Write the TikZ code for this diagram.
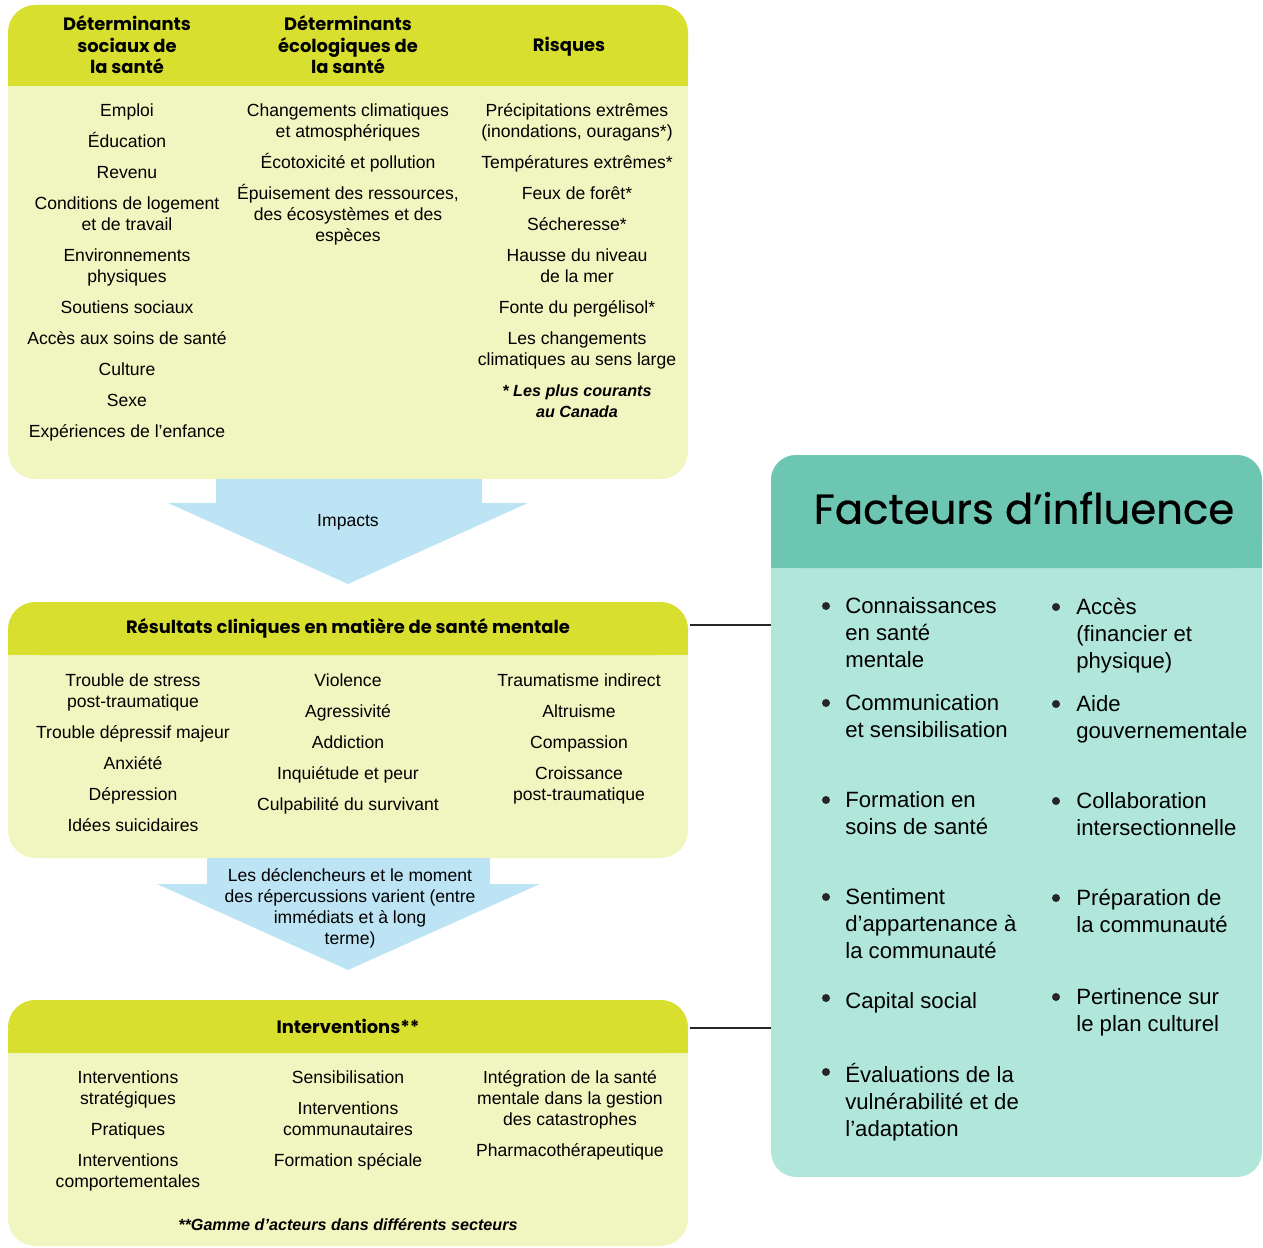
\documentclass[tikz,border=0pt]{standalone}
\usepackage{fontspec}
\setmainfont{Liberation Sans}
\newfontfamily\headfont{Poppins}
\newfontfamily\titlefont[FakeBold=0.6]{Poppins}
\usepackage{xcolor}
\usetikzlibrary{positioning}

\definecolor{headgreen}{HTML}{D8DF2E}
\definecolor{bodygreen}{HTML}{F1F5C0}
\definecolor{arrowblue}{HTML}{BDE4F4}
\definecolor{tealhead}{HTML}{6DC6B1}
\definecolor{tealbody}{HTML}{B1E7DA}

\begin{document}
\begin{tikzpicture}[x=0.02cm, y=-0.02cm,
  boxhead/.style={font=\headfont\bfseries\fontsize{10.2}{12.2}\selectfont, align=center, inner sep=0pt},
  items/.style={font=\fontsize{10}{11.95}\selectfont, align=center, inner sep=0pt, anchor=north, execute at begin node=\strut},
  factitem/.style={font=\fontsize{12.6}{15.3}\selectfont, align=left, inner sep=0pt, anchor=north west, execute at begin node=\strut},
  dot/.style={circle, fill=black!85, inner sep=0pt, minimum size=0.16cm},
  link/.style={line width=0.9pt, black!85}]
  \useasboundingbox (0,0) rectangle (1263,1247);

  % Box 1: determinants and risks
  \fill[bodygreen, rounded corners=0.55cm] (8,5) rectangle (688,479);
  \fill[headgreen, rounded corners=0.55cm] (8,5) rectangle (688,86);
  \fill[headgreen] (8,50) rectangle (688,86);
  \node[boxhead] (hsoc) at (127,45) {Déterminants\\sociaux de\\la santé};
  \node[boxhead] (heco) at (348,45) {Déterminants\\écologiques de\\la santé};
  \node[boxhead] (hrisk) at (569,47) {Risques};

  \node[items] (soc) at (127,103) {Emploi\\[2mm]Éducation\\[2mm]Revenu\\[2mm]Conditions de logement\\et de travail\\[2mm]Environnements\\physiques\\[2mm]Soutiens sociaux\\[2mm]Accès aux soins de santé\\[2mm]Culture\\[2mm]Sexe\\[2mm]Expériences de l’enfance};
  \node[items] (eco) at (348,103) {Changements climatiques\\et atmosphériques\\[2mm]Écotoxicité et pollution\\[2mm]Épuisement des ressources,\\des écosystèmes et des\\espèces};
  \node[items] (risk) at (577,103) {Précipitations extrêmes\\(inondations, ouragans*)\\[2mm]Températures extrêmes*\\[2mm]Feux de forêt*\\[2mm]Sécheresse*\\[2mm]Hausse du niveau\\de la mer\\[2mm]Fonte du pergélisol*\\[2mm]Les changements\\climatiques au sens large\\[2mm]{\fontsize{9.2}{11.95}\selectfont\bfseries\itshape * Les plus courants}\\{\fontsize{9.2}{11.95}\selectfont\bfseries\itshape au Canada}};

  % Arrow 1
  \fill[arrowblue] (216,479) -- (482,479) -- (482,503) -- (528,503) -- (348,584) -- (168,503) -- (216,503) -- cycle;
  \node[font=\fontsize{10}{11.95}\selectfont] (impacts) at (348,522) {Impacts};

  % Box 2: clinical outcomes
  \fill[bodygreen, rounded corners=0.55cm] (8,602) rectangle (688,858);
  \fill[headgreen, rounded corners=0.55cm] (8,602) rectangle (688,655);
  \fill[headgreen] (8,630) rectangle (688,655);
  \node[boxhead] (hres) at (348,628) {Résultats cliniques en matière de santé mentale};
  \coordinate (resout) at (690,625);

  \node[items] (res1) at (133,673) {Trouble de stress\\post-traumatique\\[2mm]Trouble dépressif majeur\\[2mm]Anxiété\\[2mm]Dépression\\[2mm]Idées suicidaires};
  \node[items] (res2) at (348,673) {Violence\\[2mm]Agressivité\\[2mm]Addiction\\[2mm]Inquiétude et peur\\[2mm]Culpabilité du survivant};
  \node[items] (res3) at (579,673) {Traumatisme indirect\\[2mm]Altruisme\\[2mm]Compassion\\[2mm]Croissance\\post-traumatique};

  % Arrow 2
  \fill[arrowblue] (207,858) -- (490,858) -- (490,884) -- (540,884) -- (348,970) -- (157,884) -- (207,884) -- cycle;
  \node[font=\fontsize{10}{11.95}\selectfont, align=center] (timing) at (350,908) {Les déclencheurs et le moment\\des répercussions varient (entre\\immédiats et à long\\terme)};

  % Box 3: interventions
  \fill[bodygreen, rounded corners=0.55cm] (8,1000) rectangle (688,1246);
  \fill[headgreen, rounded corners=0.55cm] (8,1000) rectangle (688,1053);
  \fill[headgreen] (8,1030) rectangle (688,1053);
  \node[boxhead] (hint) at (348,1026) {Interventions**};
  \coordinate (intout) at (690,1028);

  \node[items] (int1) at (128,1070) {Interventions\\stratégiques\\[2mm]Pratiques\\[2mm]Interventions\\comportementales};
  \node[items] (int2) at (348,1070) {Sensibilisation\\[2mm]Interventions\\communautaires\\[2mm]Formation spéciale};
  \node[items] (int3) at (570,1070) {Intégration de la santé\\mentale dans la gestion\\des catastrophes\\[2mm]Pharmacothérapeutique};
  \node[font=\fontsize{9.2}{11.95}\selectfont\bfseries\itshape] (note) at (348,1225) {**Gamme d’acteurs dans différents secteurs};

  % Panel: influencing factors
  \node[fill=tealbody, rounded corners=0.5cm, minimum width=9.82cm, minimum height=14.44cm, inner sep=0pt] (fact) at (1016.5,816) {};
  \fill[tealhead, rounded corners=0.5cm] (771,455) rectangle (1262,568);
  \fill[tealhead] (771,520) rectangle (1262,568);
  \node[font=\titlefont\fontsize{23.8}{28}\selectfont] (title) at (1024,508) {Facteurs d’influence};

  \node[dot] at (826,606) {};
  \node[factitem] (f1) at (845,597) {Connaissances\\en santé\\mentale};
  \node[dot] at (826,703) {};
  \node[factitem] (f2) at (845,694) {Communication\\et sensibilisation};
  \node[dot] at (826,800) {};
  \node[factitem] (f3) at (845,791) {Formation en\\soins de santé};
  \node[dot] at (826,897) {};
  \node[factitem] (f4) at (845,888) {Sentiment\\d’appartenance à\\la communauté};
  \node[dot] at (826,998) {};
  \node[factitem] (f5) at (845,989) {Capital social};
  \node[dot] at (826,1072) {};
  \node[factitem] (f6) at (845,1063) {Évaluations de la\\vulnérabilité et de\\l’adaptation};

  \node[dot] at (1056,607) {};
  \node[factitem] (g1) at (1076,598) {Accès\\(financier et\\physique)};
  \node[dot] at (1056,704) {};
  \node[factitem] (g2) at (1076,695) {Aide\\gouvernementale};
  \node[dot] at (1056,801) {};
  \node[factitem] (g3) at (1076,792) {Collaboration\\intersectionnelle};
  \node[dot] at (1056,898) {};
  \node[factitem] (g4) at (1076,889) {Préparation de\\la communauté};
  \node[dot] at (1056,997) {};
  \node[factitem] (g5) at (1076,988) {Pertinence sur\\le plan culturel};

  % Links to the panel
  \draw[link] (resout) -- (resout -| fact.west);
  \draw[link] (intout) -- (intout -| fact.west);
\end{tikzpicture}
\end{document}
